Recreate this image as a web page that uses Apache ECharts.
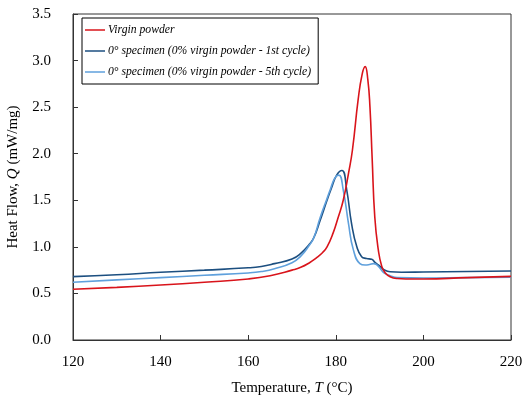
<!DOCTYPE html>
<html>
<head>
<meta charset="utf-8">
<script src="https://cdn.jsdelivr.net/npm/echarts@6/dist/echarts.min.js"></script>
<style>html,body{margin:0;padding:0;background:#fff}#c{width:524px;height:399px}</style>
</head>
<body>
<div id="c"></div>
<script>
var seriesNames = ['Virgin powder', '0\u00b0 specimen (0% virgin powder - 1st cycle)', '0\u00b0 specimen (0% virgin powder - 5th cycle)'];
var xTicks = [120, 140, 160, 180, 200, 220];
var yTicks = [0, 0.5, 1, 1.5, 2, 2.5, 3, 3.5];

var tVirgin = [120,130,140,150,160,165,170,172,174,175.5,177,178,179.4,180.5,181.7,182.9,183.8,185.1,186,186.7,187.3,187.8,188.3,188.9,189.7,190.5,191.3,192.4,194,196,200,210,220];
var qVirgin = [0.545,0.565,0.59,0.62,0.655,0.69,0.75,0.78,0.83,0.88,0.94,1.0,1.15,1.31,1.5,1.79,2.04,2.58,2.85,2.935,2.8,2.5,1.95,1.32,0.97,0.79,0.72,0.68,0.66,0.655,0.655,0.67,0.683];

var tCycle1 = [120,130,140,150,160,163,166,170,172,174,175,176.4,178,179,180.2,181.4,182.5,183.6,184.8,185.9,187,188.2,189,190.1,191,192.4,195,200,210,220];
var qCycle1 = [0.68,0.70,0.727,0.75,0.775,0.79,0.82,0.87,0.93,1.03,1.1,1.28,1.5,1.63,1.77,1.82,1.61,1.25,1.0,0.895,0.875,0.866,0.83,0.79,0.755,0.733,0.728,0.73,0.735,0.74];

var tCycle5 = [120,130,140,150,160,163,166,170,172,174,175,176.4,178,178.7,179.8,180.7,181.7,182.9,184,185.5,186.7,187.7,188.6,189.3,190.1,191,192.4,194,200,210,220];
var qCycle5 = [0.62,0.645,0.67,0.695,0.72,0.735,0.765,0.83,0.9,1.02,1.1,1.31,1.52,1.61,1.74,1.77,1.61,1.25,0.97,0.82,0.805,0.81,0.82,0.81,0.77,0.72,0.69,0.67,0.665,0.67,0.675];

function pairs(t, q) { return t.map(function (v, i) { return [v, q[i]]; }); }

var font = 'Liberation Serif';
var lineIcon = 'path://M0,0H40V3H0Z';
var colors = ['#d9141b', '#1c4f80', '#5fa0dc'];
var chart = echarts.init(document.getElementById('c'));
chart.setOption({
  animation: false,
  backgroundColor: '#fff',
  grid: { left: 73, right: 13, top: 14, bottom: 59, show: true, borderColor: '#333', borderWidth: 1, containLabel: false, outerBoundsMode: 'none' },
  legend: {
    orient: 'vertical', left: 82, top: 18,
    padding: [6, 7, 6, 3],
    itemWidth: 20, itemHeight: 14, itemGap: 9,
    borderColor: '#000', borderWidth: 1, backgroundColor: '#fff',
    icon: lineIcon,
    textStyle: { fontFamily: font, fontStyle: 'italic', fontSize: 11.7, color: '#000', padding: [0, 0, 0, -2] },
    data: seriesNames
  },
  xAxis: {
    type: 'value', min: 120, max: 220, interval: 20,
    axisLine: { show: true, lineStyle: { color: '#333', width: 1 } },
    axisTick: { show: true, inside: true, length: 5, lineStyle: { color: '#333' } },
    splitLine: { show: false },
    axisLabel: { fontFamily: font, fontSize: 15, color: '#000', margin: 15 },
    name: '{a|Temperature, }{i|T}{a| (\u00b0C)}',
    nameLocation: 'middle', nameGap: 41,
    nameTextStyle: { rich: { a: { fontFamily: font, fontSize: 15, color: '#000' }, i: { fontFamily: font, fontSize: 15, fontStyle: 'italic', color: '#000' } } }
  },
  yAxis: {
    type: 'value', min: 0, max: 3.5, interval: 0.5,
    axisLine: { show: true, lineStyle: { color: '#333', width: 1 } },
    axisTick: { show: true, inside: true, length: 5, lineStyle: { color: '#333' } },
    splitLine: { show: false },
    axisLabel: { fontFamily: font, fontSize: 15, color: '#000', margin: 22, formatter: function (v) { return v.toFixed(1); } },
    name: '{a|Heat Flow, }{i|Q}{a| (mW/mg)}',
    nameLocation: 'middle', nameGap: 52, nameRotate: 90,
    nameTextStyle: { rich: { a: { fontFamily: font, fontSize: 15, color: '#000' }, i: { fontFamily: font, fontSize: 15, fontStyle: 'italic', color: '#000' } } }
  },
  series: [
    { name: seriesNames[0], type: 'line', data: pairs(tVirgin, qVirgin), symbol: 'none', smooth: 0.5, lineStyle: { color: colors[0], width: 1.6 }, itemStyle: { color: colors[0] }, z: 3 },
    { name: seriesNames[1], type: 'line', data: pairs(tCycle1, qCycle1), symbol: 'none', smooth: 0.5, lineStyle: { color: colors[1], width: 1.6 }, itemStyle: { color: colors[1] }, z: 2 },
    { name: seriesNames[2], type: 'line', data: pairs(tCycle5, qCycle5), symbol: 'none', smooth: 0.5, lineStyle: { color: colors[2], width: 1.6 }, itemStyle: { color: colors[2] }, z: 2 }
  ]
});
</script>
</body>
</html>
